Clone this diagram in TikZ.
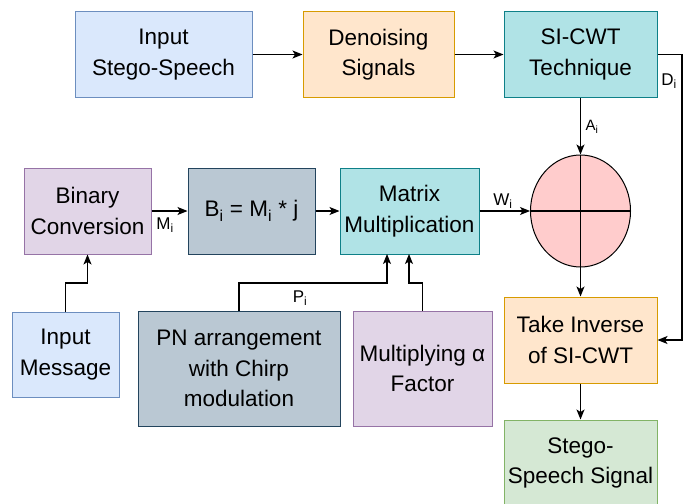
\documentclass[tikz,border=0pt]{standalone}
\usepackage{fontspec}
\setmainfont{Liberation Sans}
\usetikzlibrary{arrows.meta,shapes.geometric}
\definecolor{bluef}{HTML}{DAE8FC}\definecolor{bluel}{HTML}{6C8EBF}
\definecolor{oraf}{HTML}{FFE6CC}\definecolor{oral}{HTML}{D79B00}
\definecolor{teaf}{HTML}{B0E3E6}\definecolor{teal2}{HTML}{0E8088}
\definecolor{purf}{HTML}{E1D5E7}\definecolor{purl}{HTML}{9673A6}
\definecolor{gryf}{HTML}{BAC8D3}\definecolor{gryl}{HTML}{23445D}
\definecolor{grnf}{HTML}{D5E8D4}\definecolor{grnl}{HTML}{82B366}
\definecolor{pinkf}{HTML}{FFCCCC}
\begin{document}
\begin{tikzpicture}[x=1pt,y=-1pt,
  box/.style={draw, line width=1pt, rectangle, align=center, inner sep=0pt,
    font=\fontsize{22.5}{30.5}\selectfont},
  arr/.style={-{Stealth[length=10pt,width=8pt,inset=2.5pt]}, line width=1.2pt},
  lab/.style={font=\fontsize{17}{19}\selectfont, inner sep=0pt}]
\useasboundingbox (0,0) rectangle (684,503);
% top row
\node[box, fill=bluef, draw=bluel, minimum width=177pt, minimum height=85pt] (in1) at (163.5,54.5) {Input\\Stego-Speech};
\node[box, fill=oraf, draw=oral, minimum width=151pt, minimum height=85pt] (den) at (378.5,54.5) {Denoising\\Signals};
\node[box, fill=teaf, draw=teal2, minimum width=153pt, minimum height=85pt] (sicwt) at (580.5,54.5) {SI-CWT\\Technique};
% middle row
\node[box, fill=purf, draw=purl, minimum width=127pt, minimum height=86pt] (bin) at (87.5,211) {Binary\\Conversion};
\node[box, fill=gryf, draw=gryl, minimum width=127pt, minimum height=86pt] (bi) at (251.5,211) {B\textsubscript{i} = M\textsubscript{i} * j};
\node[box, fill=teaf, draw=teal2, minimum width=139pt, minimum height=86pt] (mat) at (409.5,211) {Matrix\\Multiplication};
\node[draw, ellipse, fill=pinkf, line width=1pt, minimum width=100pt, minimum height=112pt, inner sep=0pt] (c) at (580.5,211) {};
% right column
\node[box, fill=oraf, draw=oral, minimum width=153pt, minimum height=86pt] (inv) at (580.5,340) {Take Inverse\\of SI-CWT};
\node[box, fill=grnf, draw=grnl, minimum width=153pt, minimum height=86pt] (out) at (580.5,463) {Stego-\\Speech Signal};
% bottom row
\node[box, fill=bluef, draw=bluel, minimum width=107pt, minimum height=85pt] (msg) at (65.5,354.5) {Input\\Message};
\node[box, fill=gryf, draw=gryl, minimum width=202pt, minimum height=115pt] (pn) at (239,368.5) {PN arrangement\\with Chirp\\modulation};
\node[box, fill=purf, draw=purl, minimum width=139pt, minimum height=115pt] (mul) at (422.5,368.5) {Multiplying α\\Factor};
% helper coordinates
\coordinate (yk) at (0,283);
\coordinate (mA) at (387,254);
\coordinate (mB) at (409,254);
\coordinate (dR) at (682,54.5);
% connectors
\draw[arr] (in1.east) -- (den.west);
\draw[arr] (den.east) -- (sicwt.west);
\draw[arr] (sicwt.south) -- (c.north);
\draw[line width=1.2pt] (c.west) -- (c.east);
\draw[line width=1.2pt] (c.north) -- (c.south);
\draw[arr] (c.south) -- (inv.north);
\draw[arr] (inv.south) -- (out.north);
\draw[arr] (sicwt.east) -- (dR) |- (inv.east);
\draw[arr] (bin.east) -- (bi.west);
\draw[arr] (bi.east) -- (mat.west);
\draw[arr] (mat.east) -- (c.west);
\draw[arr] (msg.north) -- (msg.north |- yk) -| (bin.south);
\draw[arr] (pn.north) -- (pn.north |- yk) -| (mA);
\draw[arr] (mul.north) -- (mul.north |- yk) -| (mB);
% labels
\node[lab] (lD) at (669,81) {D\textsubscript{i}};
\node[lab, font=\fontsize{15}{17}\selectfont] (lA) at (592,127) {A\textsubscript{i}};
\node[lab] (lM) at (165,225) {M\textsubscript{i}};
\node[lab] (lW) at (503,201) {W\textsubscript{i}};
\node[lab] (lP) at (300,298) {P\textsubscript{i}};
\end{tikzpicture}
\end{document}
